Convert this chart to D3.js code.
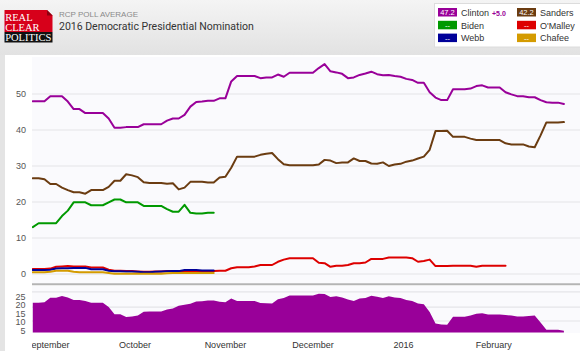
<!DOCTYPE html>
<html>
<head>
<meta charset="utf-8">
<script src="https://cdn.jsdelivr.net/npm/d3@7"></script>
<style>
  body { margin: 0; background: #e4e4e4; }
  svg { display: block; font-family: "Liberation Sans", Arial, sans-serif; }
</style>
</head>
<body>
<div id="chart"></div>
<script>
(function () {

    // ---- data (one value every 2 days) ----
    const startDate = new Date(Date.UTC(2015, 7, 27));
    const stepDays = 2;

    const clinton = [48.0, 48.0, 48.0, 49.4, 49.4, 49.4, 47.9, 45.8, 45.8, 44.7,
        44.7, 44.7, 44.7, 43.2, 40.6, 40.6, 40.8, 40.8, 40.8, 41.6,
        41.6, 41.6, 41.6, 42.6, 43.2, 43.2, 44.2, 46.5, 47.8, 47.9,
        48.1, 48.1, 48.8, 48.8, 53.5, 55.0, 55.0, 55.0, 55.0, 54.4,
        54.6, 54.6, 55.4, 54.8, 55.9, 55.9, 55.9, 55.9, 55.9, 57.2,
        58.3, 56.3, 56.0, 55.6, 54.4, 54.6, 55.3, 55.7, 56.2, 55.5,
        55.2, 55.3, 55.0, 54.8, 54.2, 53.9, 53.1, 53.1, 50.5, 49.0,
        48.3, 48.3, 51.3, 51.3, 51.3, 51.5, 52.2, 52.4, 51.8, 51.8,
        51.8, 50.5, 49.9, 49.4, 49.4, 49.1, 49.1, 48.3, 47.7, 47.6,
        47.6, 47.2];

    const sanders = [26.6, 26.6, 26.3, 25.0, 25.0, 24.0, 23.3, 22.7, 22.7, 22.3,
        23.3, 23.3, 23.3, 24.2, 25.9, 25.9, 27.7, 27.4, 26.9, 25.5,
        25.3, 25.3, 25.3, 25.1, 25.2, 23.5, 24.0, 25.6, 25.6, 25.6,
        25.4, 25.4, 26.8, 27.0, 29.5, 32.6, 32.6, 32.6, 32.6, 33.1,
        33.4, 33.6, 31.9, 30.5, 30.2, 30.2, 30.2, 30.2, 30.2, 30.4,
        31.7, 31.5, 30.8, 31.0, 31.0, 32.1, 31.4, 31.4, 30.7, 30.6,
        31.0, 30.0, 30.4, 30.6, 31.2, 31.5, 32.1, 32.6, 34.5, 39.7,
        39.7, 39.8, 38.1, 38.1, 38.1, 37.6, 37.2, 37.2, 37.2, 37.2,
        37.2, 36.3, 36.0, 36.0, 36.0, 35.4, 35.2, 38.5, 42.1, 42.1,
        42.1, 42.2];

    const biden = [13.0, 14.1, 14.1, 14.1, 14.1, 16.1, 17.6, 19.9, 19.9, 19.9,
        19.1, 19.1, 19.1, 19.9, 20.7, 20.7, 19.9, 19.9, 19.9, 18.9,
        18.9, 18.9, 18.9, 18.0, 17.3, 17.3, 19.2, 17.0, 16.8, 16.8,
        17.0, 17.0];

    const omalley = [1.4, 1.4, 1.4, 1.5, 2.0, 2.1, 2.2, 2.1, 2.1, 2.1,
        1.8, 1.8, 1.8, 1.2, 0.9, 0.9, 0.8, 0.8, 0.7, 0.6,
        0.6, 0.7, 0.7, 0.8, 0.8, 0.8, 0.8, 0.8, 0.8, 0.8,
        0.8, 0.8, 0.9, 0.9, 1.6, 1.9, 1.9, 1.9, 2.1, 2.5,
        2.5, 2.5, 3.4, 4.0, 4.4, 4.4, 4.4, 4.4, 4.4, 3.1,
        3.0, 2.0, 2.3, 2.3, 2.5, 3.0, 3.0, 3.2, 4.2, 4.2,
        4.2, 4.6, 4.6, 4.6, 4.6, 4.4, 3.4, 3.6, 4.0, 2.2,
        2.2, 2.2, 2.3, 2.3, 2.3, 2.3, 2.0, 2.3, 2.3, 2.3,
        2.3, 2.3];

    const webb = [1.1, 1.1, 1.1, 1.2, 1.5, 1.6, 1.6, 1.7, 1.7, 1.7,
        1.3, 1.3, 1.3, 0.9, 0.75, 0.75, 0.7, 0.7, 0.6, 0.5,
        0.5, 0.6, 0.7, 0.75, 0.8, 0.8, 1.1, 1.1, 1.1, 1.0,
        1.0, 1.0];

    const chafee = [0.5, 0.5, 0.5, 0.6, 0.9, 0.9, 0.9, 0.6, 0.5, 0.5,
        0.5, 0.5, 0.5, 0.3, 0.1, 0.1, 0.1, 0.1, 0.1, 0.1,
        0.1, 0.1, 0.1, 0.2, 0.3, 0.3, 0.3, 0.3, 0.3, 0.3,
        0.3, 0.3];

    const candidates = ["Clinton", "Sanders", "Biden", "O'Malley", "Webb", "Chafee"];
    const colors = ["#990099", "#6b3c11", "#009900", "#dd0000", "#000099", "#d49b00"];
    const legendValues = ["47.2", "42.2", "--", "--", "--", "--"];
    const spreadLabel = "+5.0";

    const mainTicks = [0, 10, 20, 30, 40, 50];
    const spreadTicks = [5, 10, 15, 20, 25];
    const spreadGrid = [10.7, 18.9, 27.8];
    const monthTicks = [
        new Date(Date.UTC(2015, 8, 1)), new Date(Date.UTC(2015, 9, 1)),
        new Date(Date.UTC(2015, 10, 1)), new Date(Date.UTC(2015, 11, 1)),
        new Date(Date.UTC(2016, 0, 1)), new Date(Date.UTC(2016, 1, 1))
    ];
    const monthLabels = ["September", "October", "November", "December", "2016", "February"];

    const dates = d3.range(clinton.length).map(i => d3.utcDay.offset(startDate, i * stepDays));
    const series = [clinton, sanders, biden, omalley, webb, chafee];

    // ---- layout ----
    const W = 580, H = 351;
    const plot = { left: 32, right: 580, top: 57, bottom: 284 };
    const lower = { top: 286, bottom: 333 };

    const svg = d3.select("#chart").append("svg")
        .attr("width", W)
        .attr("height", H);

    const defs = svg.append("defs");
    const grad = defs.append("linearGradient")
        .attr("id", "hdr").attr("x1", 0).attr("y1", 0).attr("x2", 0).attr("y2", 1);
    grad.append("stop").attr("offset", "0%").attr("stop-color", "#f4f4f4");
    grad.append("stop").attr("offset", "100%").attr("stop-color", "#e2e2e2");

    defs.append("clipPath").attr("id", "plotClip")
        .append("rect")
        .attr("x", plot.left).attr("y", 0)
        .attr("width", plot.right - plot.left).attr("height", H);

    // header
    svg.append("rect").attr("width", W).attr("height", 55).attr("fill", "url(#hdr)");

    // logo
    const logo = svg.append("g");
    logo.append("path")
        .attr("d", "M4.5,10 L47,10 L52.5,15.5 L52.5,32 L4.5,32 Z")
        .attr("fill", "#d7001a");
    logo.append("path")
        .attr("d", "M47,10 L47,15.5 L52.5,15.5 Z")
        .attr("fill", "#8c0010");
    logo.append("rect")
        .attr("x", 4.5).attr("y", 32).attr("width", 48).attr("height", 10.5)
        .attr("fill", "#111");
    logo.selectAll("text")
        .data([["REAL", 21], ["CLEAR", 31], ["POLITICS", 41.2]])
        .enter().append("text")
        .attr("x", 5.2)
        .attr("y", d => d[1])
        .attr("fill", "#fff")
        .style("font-family", "'Liberation Serif', 'Times New Roman', serif")
        .style("font-size", "10.5px")
        .text(d => d[0]);

    svg.append("text")
        .attr("x", 59).attr("y", 17)
        .attr("fill", "#8a8a8a")
        .style("font-size", "8px")
        .text("RCP POLL AVERAGE");

    svg.append("text")
        .attr("x", 59).attr("y", 30)
        .attr("fill", "#333")
        .style("font-family", "Roboto, sans-serif")
        .style("font-size", "10.5px")
        .text("2016 Democratic Presidential Nomination");

    // legend
    svg.append("rect")
        .attr("x", 434.5).attr("y", 3.5).attr("width", 150).attr("height", 43.5)
        .attr("fill", "#fff").attr("stroke", "#dcdcdc");

    const leg = svg.append("g").selectAll("g")
        .data(candidates)
        .enter().append("g")
        .attr("transform", (d, i) => `translate(${i % 2 === 0 ? 438 : 517},${8 + Math.floor(i / 2) * 12.8})`);

    leg.append("rect")
        .attr("width", 19).attr("height", 8.5)
        .attr("fill", (d, i) => colors[i]);
    leg.append("text")
        .attr("x", 9.5).attr("y", 7)
        .attr("text-anchor", "middle")
        .attr("fill", "#fff")
        .style("font-size", "7.5px")
        .text((d, i) => legendValues[i]);
    leg.append("text")
        .attr("x", 23).attr("y", 7.8)
        .attr("fill", "#333")
        .style("font-size", "9px")
        .text(d => d);

    svg.append("text")
        .attr("x", 492).attr("y", 15.5)
        .attr("fill", "#990099")
        .style("font-size", "7px")
        .style("font-weight", "bold")
        .text(spreadLabel);

    // white panel + plot backgrounds
    svg.append("rect").attr("x", 5).attr("y", 55).attr("width", W - 5).attr("height", H - 55)
        .attr("fill", "#fff");
    svg.append("rect")
        .attr("x", plot.left).attr("y", plot.top)
        .attr("width", plot.right - plot.left).attr("height", plot.bottom - plot.top)
        .attr("fill", "#fafafd");
    svg.append("rect")
        .attr("x", plot.left).attr("y", lower.top)
        .attr("width", plot.right - plot.left).attr("height", lower.bottom - lower.top)
        .attr("fill", "#fafafd");

    // ---- scales ----
    const x = d3.scaleUtc()
        .domain([startDate, dates[dates.length - 1]])
        .range([32.8, 563.9]);

    const y = d3.scaleLinear()
        .domain([0, 50])
        .range([274, 94]);

    const ySpread = d3.scaleLinear()
        .domain([4, 25])
        .range([lower.bottom - 0.6, 296.7]);

    // main grid + y labels
    svg.append("g").selectAll("line")
        .data(mainTicks)
        .enter().append("line")
        .attr("x1", plot.left).attr("x2", plot.right)
        .attr("y1", d => y(d)).attr("y2", d => y(d))
        .attr("stroke", "#e4e4e8").attr("stroke-width", 1.2);

    svg.append("g").selectAll("text")
        .data(mainTicks)
        .enter().append("text")
        .attr("x", 26).attr("y", d => y(d) + 3)
        .attr("text-anchor", "end")
        .attr("fill", "#555")
        .style("font-size", "9px")
        .text(d => d);

    // separator between the two panels
    svg.append("line")
        .attr("x1", plot.left).attr("x2", plot.right)
        .attr("y1", 284.3).attr("y2", 284.3)
        .attr("stroke", "#b4b4b4").attr("stroke-width", 2);

    // lines, drawn so later candidates sit on top
    const lineGen = d3.line()
        .x((d, i) => x(dates[i]))
        .y(d => y(d));

    const lines = svg.append("g").attr("clip-path", "url(#plotClip)");
    series.forEach((vals, k) => {
        lines.append("path")
            .datum(vals)
            .attr("fill", "none")
            .attr("stroke", colors[k])
            .attr("stroke-width", 2)
            .attr("stroke-linejoin", "round")
            .attr("stroke-linecap", "round")
            .attr("d", lineGen);
    });

    // lower panel: Clinton lead over Sanders
    const spread = clinton.map((v, i) => v - sanders[i]);

    svg.append("g").selectAll("line")
        .data(spreadGrid)
        .enter().append("line")
        .attr("x1", plot.left).attr("x2", plot.right)
        .attr("y1", d => ySpread(d)).attr("y2", d => ySpread(d))
        .attr("stroke", "#e4e4e8").attr("stroke-width", 1.2);

    const area = d3.area()
        .x((d, i) => x(dates[i]))
        .y0(ySpread(4))
        .y1(d => ySpread(d));

    svg.append("path")
        .datum(spread)
        .attr("fill", "#990099")
        .attr("d", area);

    svg.append("g").selectAll("text")
        .data(spreadTicks)
        .enter().append("text")
        .attr("x", 25.5).attr("y", d => ySpread(d) + 3)
        .attr("text-anchor", "end")
        .attr("fill", "#555")
        .style("font-size", "9px")
        .text(d => d);

    // month labels
    svg.append("g").attr("clip-path", "url(#plotClip)")
        .selectAll("text")
        .data(monthTicks)
        .enter().append("text")
        .attr("x", d => x(d))
        .attr("y", 348)
        .attr("text-anchor", "middle")
        .attr("fill", "#333")
        .style("font-size", "9px")
        .text((d, i) => monthLabels[i]);

})();
</script>
</body>
</html>
